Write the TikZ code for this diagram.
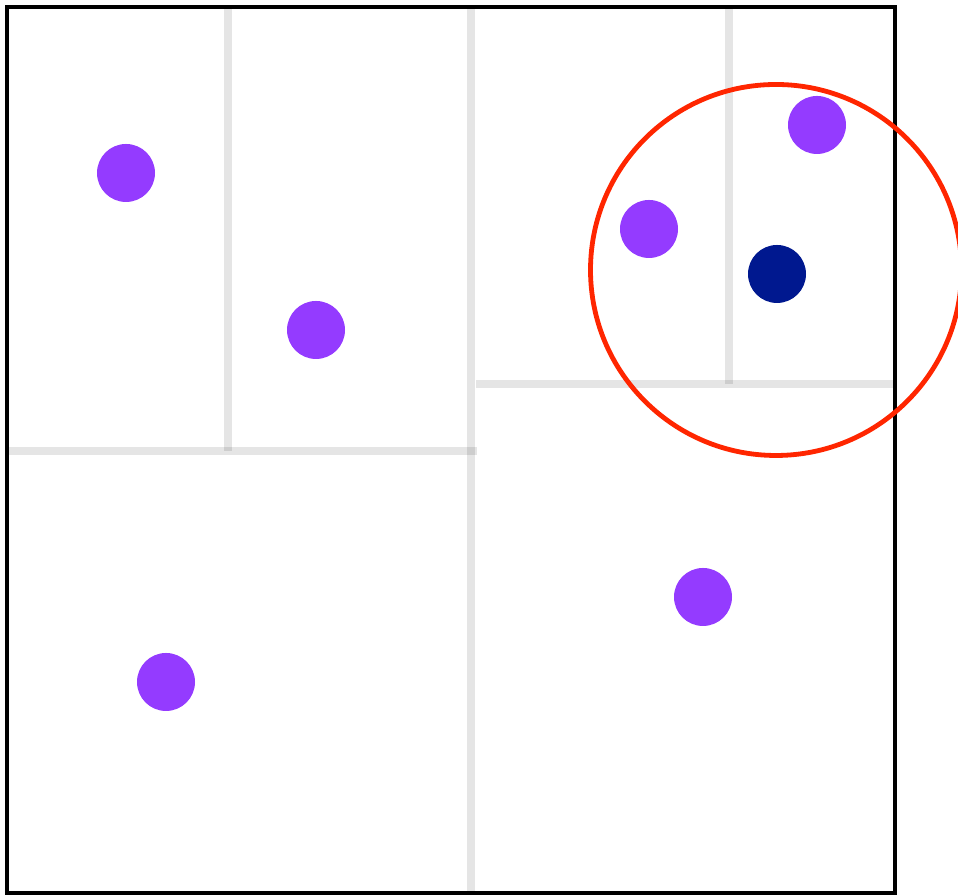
\documentclass[tikz,border=0pt]{standalone}
\usepackage{tikz}
\tikzset{
  split/.style={draw=black, draw opacity=0.1, line width=0.075cm},
  pt/.style={circle, fill={rgb,255:red,148;green,59;blue,255}, minimum size=0.58cm, inner sep=0pt},
  query/.style={pt, fill={rgb,255:red,0;green,24;blue,143}},
  frame/.style={draw, line width=0.045cm},
  ball/.style={draw={rgb,255:red,255;green,38;blue,0}, line width=0.048cm}
}
\begin{document}
\begin{tikzpicture}[x=1cm, y=1cm]
  \useasboundingbox (0,0) rectangle (9.58,8.96);
  \fill[white] (0,0) rectangle (9.58,8.96);

  % region corners
  \coordinate (bl) at (0.07,0.03);
  \coordinate (tr) at (8.95,8.89);

  % splitting lines
  \draw[split] (4.71,8.89) -- (4.71,0.03);
  \draw[split] (0.07,4.45) -- (4.77,4.45);
  \draw[split] (2.28,8.89) -- (2.28,4.45);
  \draw[split] (4.76,5.12) -- (8.95,5.12);
  \draw[split] (7.29,8.89) -- (7.29,5.12);

  \draw[frame] (bl) rectangle (tr);

  % data points
  \node[pt] (p1) at (1.26,7.23) {};
  \node[pt] (p2) at (3.16,5.66) {};
  \node[pt] (p3) at (1.66,2.14) {};
  \node[pt] (p4) at (6.49,6.67) {};
  \node[pt] (p5) at (8.17,7.71) {};
  \node[pt] (p6) at (7.03,2.99) {};
  \node[query] (q) at (7.77,6.22) {};

  \draw[ball] (7.76,6.26) circle (1.855);
\end{tikzpicture}
\end{document}
